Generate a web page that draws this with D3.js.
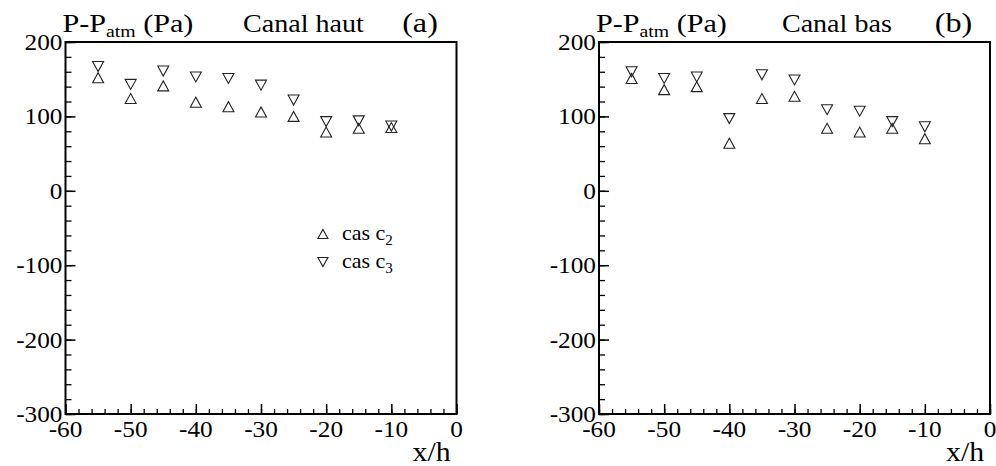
<!DOCTYPE html>
<html>
<head>
<meta charset="utf-8">
<script src="https://cdn.jsdelivr.net/npm/d3@7"></script>
<style>
  html, body { margin: 0; padding: 0; background: #fff; }
  svg { display: block; }
  svg text { font-family: "Liberation Serif", "DejaVu Serif", "Times New Roman", serif; fill: #000; }
</style>
</head>
<body>
<svg id="chart" width="996" height="466"></svg>
<script>
// ---- data ----
const xPos = [-55, -50, -45, -40, -35, -30, -25, -20, -15, -10];
const hautC2 = [152, 124, 141, 119, 113, 106, 100, 79, 84, 85];
const hautC3 = [167, 143, 161, 153, 151, 142, 122, 93, 94, 87];
const basC2 = [151, 136, 140, 64, 124, 127, 84, 79, 84, 70];
const basC3 = [160, 151, 153, 97, 156, 149, 109, 107, 93, 86];
const xTicks = [-60, -50, -40, -30, -20, -10, 0];
const yTicks = [-300, -200, -100, 0, 100, 200];
const xDomain = [-60, 0];
const yDomain = [-300, 200];
const seriesNames = ["cas c", "cas c"];
const seriesSubs = ["2", "3"];
const panelTitles = ["Canal haut", "Canal bas"];
const panelTags = ["(a)", "(b)"];

const svg = d3.select("#chart");

function triPath(x, y, up, w, h) {
  const hw = w / 2, hh = h / 2;
  if (up) return `M${x - hw},${y + hh}L${x},${y - hh}L${x + hw},${y + hh}Z`;
  return `M${x - hw},${y - hh}L${x},${y + hh}L${x + hw},${y - hh}Z`;
}

function drawPanel(left, right, c2, c3, title, tag, showLegend) {
  const top = 42, bottom = 414;
  const x = d3.scaleLinear().domain(xDomain).range([left, right]);
  const y = d3.scaleLinear().domain(yDomain).range([bottom, top]);
  const g = svg.append("g");

  // minor ticks
  const xMinor = d3.range(-60, 0.1, 2);
  const yMinor = d3.range(-300, 200.1, 20);
  g.append("g").attr("transform", `translate(0,${bottom})`)
    .call(d3.axisBottom(x).tickValues(xMinor).tickSizeInner(-5).tickSizeOuter(0).tickFormat(""))
    .call(s => s.select(".domain").remove())
    .call(s => s.selectAll("line").attr("stroke", "#000").attr("stroke-width", 1.3));
  g.append("g").attr("transform", `translate(${left},0)`)
    .call(d3.axisLeft(y).tickValues(yMinor).tickSizeInner(-6).tickSizeOuter(0).tickFormat(""))
    .call(s => s.select(".domain").remove())
    .call(s => s.selectAll("line").attr("stroke", "#000").attr("stroke-width", 1.3));
  // major ticks
  g.append("g").attr("transform", `translate(0,${bottom})`)
    .call(d3.axisBottom(x).tickValues(xTicks).tickSizeInner(-10).tickSizeOuter(0).tickFormat(""))
    .call(s => s.select(".domain").remove())
    .call(s => s.selectAll("line").attr("stroke", "#000").attr("stroke-width", 1.5));
  g.append("g").attr("transform", `translate(${left},0)`)
    .call(d3.axisLeft(y).tickValues(yTicks).tickSizeInner(-10).tickSizeOuter(0).tickFormat(""))
    .call(s => s.select(".domain").remove())
    .call(s => s.selectAll("line").attr("stroke", "#000").attr("stroke-width", 1.5));

  // frame
  g.append("rect").attr("x", left).attr("y", top)
    .attr("width", right - left).attr("height", bottom - top)
    .attr("fill", "none").attr("stroke", "#000").attr("stroke-width", 2);

  // tick labels
  xTicks.forEach(v => {
    g.append("text").attr("transform", `translate(${x(v)},437) scale(1.1,1)`)
      .attr("text-anchor", "middle").attr("font-size", 23).text(v);
  });
  yTicks.forEach(v => {
    g.append("text").attr("transform", `translate(${left - 3},${y(v) + 8}) scale(1.1,1)`)
      .attr("text-anchor", "end").attr("font-size", 23).text(v);
  });

  // axis titles
  const t = g.append("text").attr("transform", `translate(${left - 3},32) scale(1.16,1)`)
    .attr("font-size", 26);
  t.append("tspan").text("P-P");
  t.append("tspan").attr("font-size", 17).attr("dy", 5).text("atm");
  t.append("tspan").attr("dy", -5).text(" (Pa)");
  g.append("text").attr("transform", `translate(${x(-23.5)},32) scale(1.08,1)`)
    .attr("text-anchor", "middle").attr("font-size", 26).text(title);
  g.append("text").attr("transform", `translate(${x(-5.6)},32) scale(1.15,1)`)
    .attr("text-anchor", "middle").attr("font-size", 28).text(tag);
  g.append("text").attr("transform", `translate(${right - 6},461) scale(1.1,1)`)
    .attr("text-anchor", "end").attr("font-size", 27).text("x/h");

  // markers
  const pts = g.append("g").attr("fill", "none").attr("stroke", "#222").attr("stroke-width", 1.1);
  pts.selectAll(".c2").data(xPos.map((v, i) => [v, c2[i]])).join("path")
    .attr("d", d => triPath(x(d[0]), y(d[1]), true, 11, 10));
  pts.selectAll(".c3").data(xPos.map((v, i) => [v, c3[i]])).join("path")
    .attr("d", d => triPath(x(d[0]), y(d[1]), false, 11, 10));

  if (showLegend) {
    const lx = x(-20.5), ly = [234, 262];
    [true, false].forEach((up, i) => {
      g.append("path").attr("d", triPath(lx, ly[i], up, 10, 9))
        .attr("fill", "none").attr("stroke", "#222").attr("stroke-width", 1.1);
      const lt = g.append("text").attr("x", lx + 19).attr("y", ly[i] + 6)
        .attr("font-size", 22);
      lt.append("tspan").text(seriesNames[i]);
      lt.append("tspan").attr("font-size", 15).attr("dy", 5).text(seriesSubs[i]);
    });
  }
}

drawPanel(65.5, 456.5, hautC2, hautC3, panelTitles[0], panelTags[0], true);
drawPanel(599, 990, basC2, basC3, panelTitles[1], panelTags[1], false);
</script>
</body>
</html>
